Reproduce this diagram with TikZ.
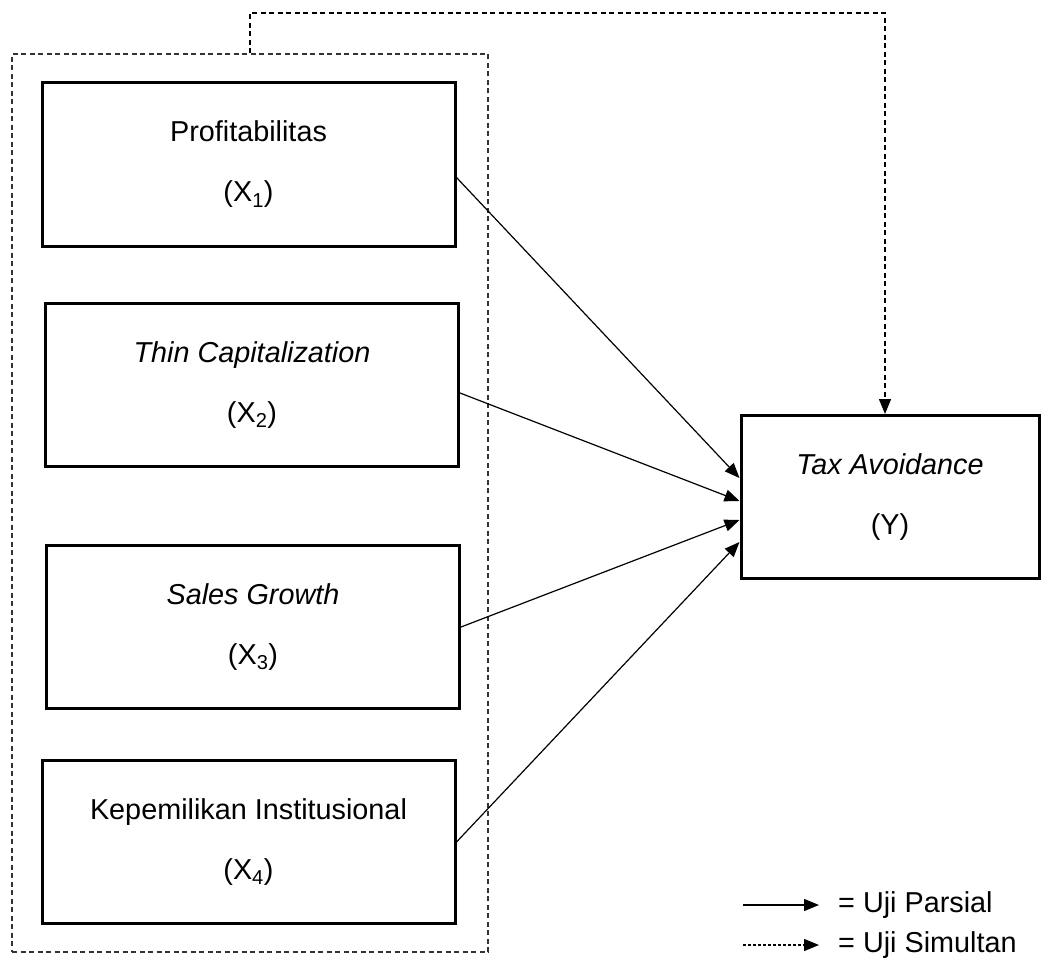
\documentclass[tikz,border=0pt]{standalone}
\usepackage{fontspec}
\setmainfont{Liberation Sans}
\usetikzlibrary{arrows.meta,positioning}
\tikzstyle{varbox} = [rectangle, minimum width=413pt, minimum height=163pt, text centered, align=center, draw=black, line width=3pt, inner sep=0pt]
\tikzstyle{groupbox} = [rectangle, minimum width=476pt, minimum height=898pt, draw=black!80, line width=1.5pt, dash pattern=on 5pt off 3.5pt]
\tikzstyle{arrow} = [line width=1.2pt,-{Triangle[length=15pt,width=12pt]}]
\tikzstyle{simarrow} = [arrow, line width=1.5pt, dash pattern=on 5pt off 3.5pt]
\begin{document}
\begin{tikzpicture}[x=1pt,y=-1pt,font=\fontsize{28.8}{60}\selectfont]
\useasboundingbox (0,0) rectangle (1041,979);

\node[groupbox] (grp) at (250,503) {};
\node[varbox] (x1) at (248.5,164.5) {Profitabilitas\\(X\textsubscript{1})};
\node[varbox] (x2) at (252,385) {\textit{Thin Capitalization}\\(X\textsubscript{2})};
\node[varbox] (x3) at (253,627) {\textit{Sales Growth}\\(X\textsubscript{3})};
\node[varbox] (x4) at (248.5,842) {Kepemilikan Institusional\\(X\textsubscript{4})};
\node[varbox, minimum width=298pt] (y) at (890,497) {\textit{Tax Avoidance}\\(Y)};

\draw[arrow] ([yshift=-13pt]x1.east) -- ([yshift=19pt]y.west);
\draw[arrow] ([yshift=-8pt]x2.east) -- ([yshift=-4pt]y.west);
\draw[arrow] (x3.east) -- ([yshift=-23pt]y.west);
\draw[arrow] (x4.east) -- ([yshift=-45pt]y.west);

\coordinate (top) at (885,13);
\draw[simarrow] (grp.north) |- (top) -- (top |- y.north);

% legend
\coordinate (lg1) at (743,905);
\coordinate (lg2) at (819,905);
\coordinate (lg3) at (743,945);
\coordinate (lg4) at (819,945);
\draw[arrow] (lg1) -- (lg2);
\draw[arrow, dash pattern=on 3pt off 2pt] (lg3) -- (lg4);
\node[right=19pt of lg2, inner sep=0pt] (lt1) {= Uji Parsial};
\node[right=19pt of lg4, inner sep=0pt] (lt2) {= Uji Simultan};
\end{tikzpicture}
\end{document}
